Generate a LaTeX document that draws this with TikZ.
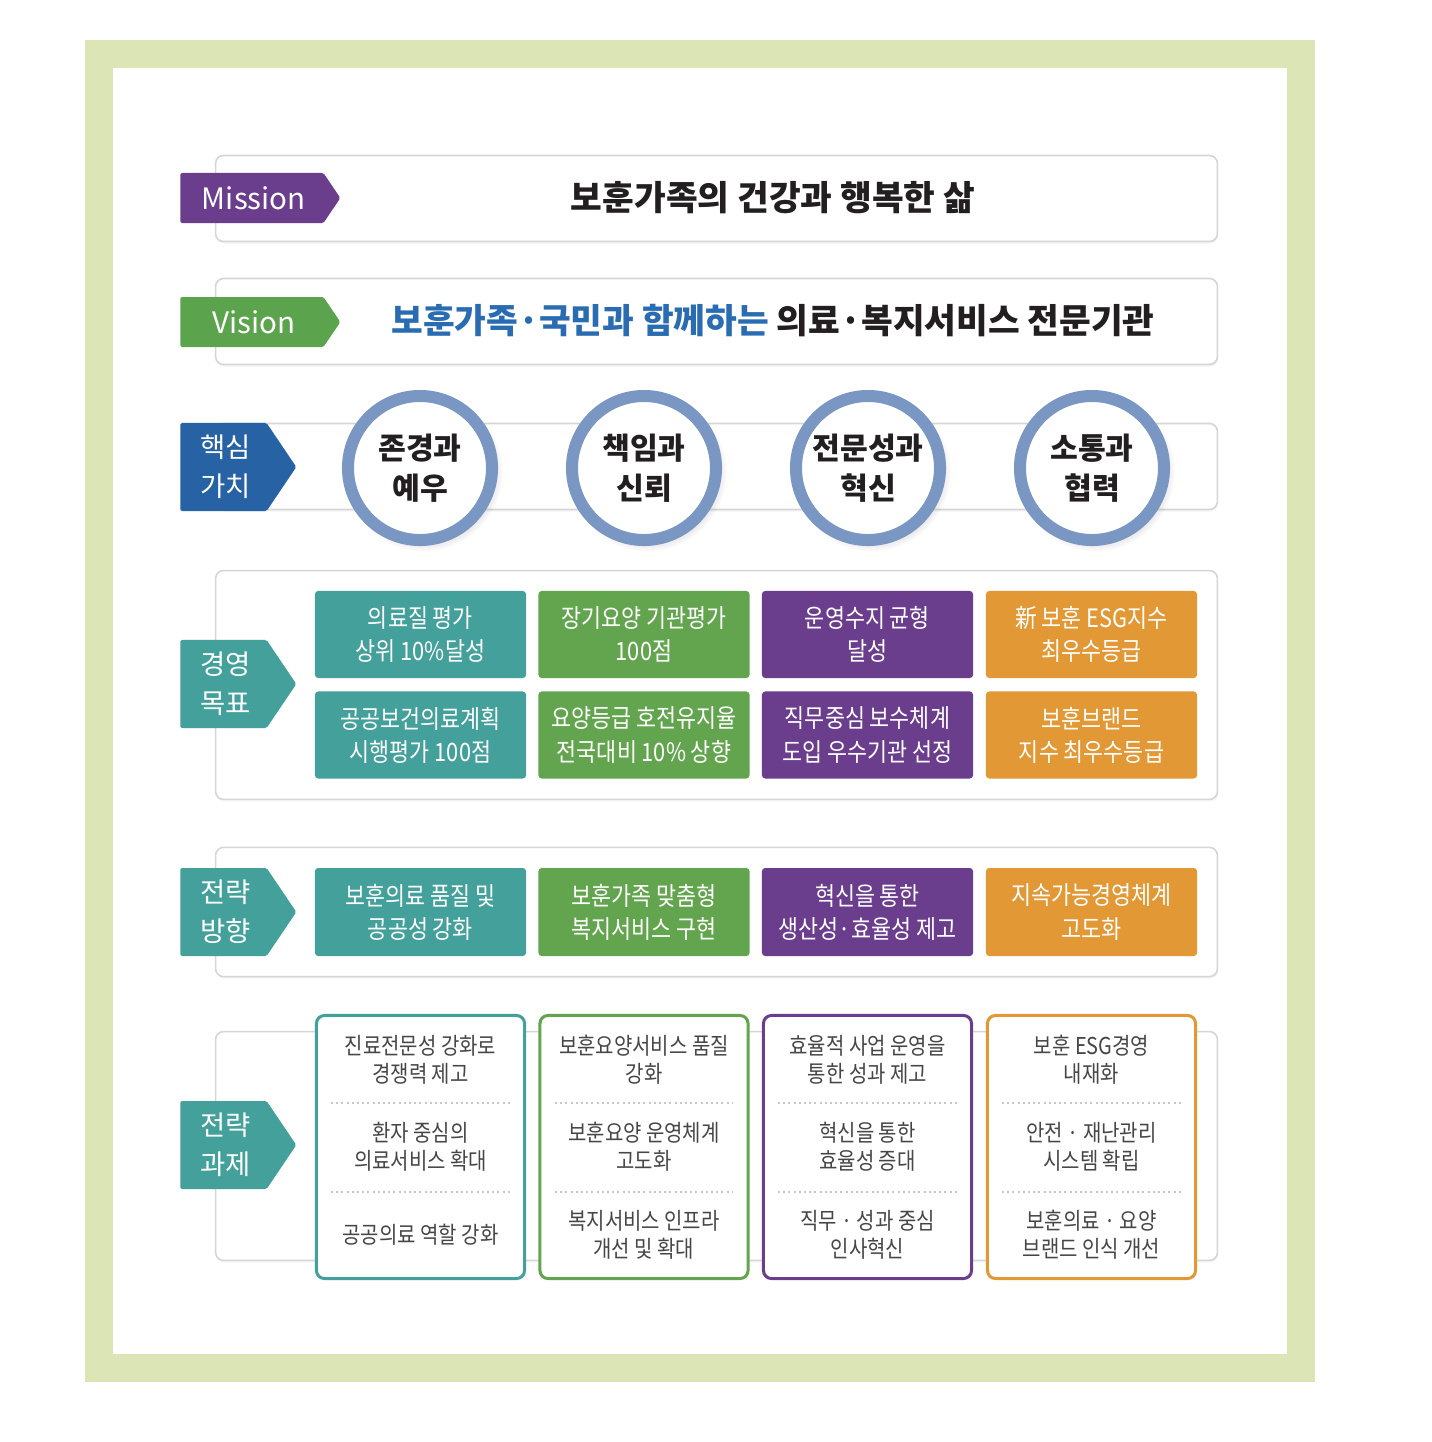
\documentclass[tikz,border=0pt]{standalone}
\usepackage{fontspec}
\setmainfont{Noto Sans CJK KR}
\newfontfamily\narrow{Noto Sans CJK KR}[FakeStretch=0.86]
\usetikzlibrary{shapes.symbols, shadows, positioning}

\definecolor{bandgreen}{RGB}{219,229,182}
\definecolor{framegray}{RGB}{214,214,214}
\definecolor{purp}{RGB}{107,61,141}
\definecolor{visgreen}{RGB}{92,163,78}
\definecolor{coreblue}{RGB}{38,98,164}
\definecolor{teal}{RGB}{68,160,154}
\definecolor{goalgreen}{RGB}{99,165,79}
\definecolor{orange}{RGB}{226,152,52}
\definecolor{ringblue}{RGB}{122,150,194}
\definecolor{textblue}{RGB}{42,108,178}
\definecolor{taskgray}{RGB}{70,70,70}
\definecolor{inkblack}{RGB}{35,31,32}

\begin{document}
\begin{tikzpicture}[x=0.025cm, y=-0.025cm]

    % Define styles
    \tikzstyle{frame} = [rectangle, draw=framegray, line width=0.04cm, rounded corners=0.2cm, fill=white, minimum width=25.04cm, drop shadow={opacity=0.08, shadow xshift=0.02cm, shadow yshift=-0.05cm}]
    \tikzstyle{tag} = [signal, signal to=east, signal pointer angle=112, anchor=west, text=white, inner sep=0, rounded corners=0.04cm]
    \tikzstyle{smalltag} = [tag, minimum width=4cm, minimum height=1.25cm, font=\fontsize{21}{24}\selectfont]
    \tikzstyle{bigtag} = [tag, minimum width=2.9cm, minimum height=2.2cm, align=center, font=\fontsize{19.5}{27.5}\selectfont]
    \tikzstyle{value} = [circle, draw=ringblue, line width=0.3cm, fill=white, minimum size=3.6cm, inner sep=0, align=center, text=inkblack, font=\fontsize{21.5}{28.5}\bfseries, circular drop shadow={opacity=0.25, shadow xshift=0.08cm, shadow yshift=-0.1cm}]
    \tikzstyle{goal} = [rectangle, rounded corners=0.08cm, minimum width=5.275cm, minimum height=2.175cm, text=white, align=center, font=\narrow\fontsize{18}{23.5}\selectfont]
    \tikzstyle{task} = [rectangle, rounded corners=0.2cm, fill=white, line width=0.075cm, minimum width=5.2cm, minimum height=6.575cm]
    \tikzstyle{item} = [align=center, text=taskgray, font=\narrow\fontsize{16.5}{20}\selectfont]
    \tikzstyle{sep} = [draw=gray!45, line width=0.04cm, dash pattern=on 0.05cm off 0.08cm]

    % Page and green band
    \useasboundingbox (0,0) rectangle (1432,1442);
    \fill[bandgreen] (85,40) rectangle (1315,1382);
    \fill[white] (113,68) rectangle (1287,1354);

    % Row frames
    \node[frame, minimum height=2.15cm] (fmission) at (716.5,198.5) {};
    \node[frame, minimum height=2.15cm] (fvision) at (716.5,321.5) {};
    \node[frame, minimum height=2.15cm] (fcore) at (716.5,466.5) {};
    \node[frame, minimum height=5.72cm] (fgoal) at (716.5,685) {};
    \node[frame, minimum height=3.23cm] (fstrat) at (716.5,912) {};
    \node[frame, minimum height=5.72cm] (ftask) at (716.5,1146) {};

    % Row labels
    \node[smalltag, fill=purp] (mission) at (180,198) {\hspace*{0.1cm}Mission};
    \node[smalltag, fill=visgreen] (vision) at (180,322) {\hspace*{0.1cm}Vision};
    \node[bigtag, fill=coreblue] (core) at (180,467) {\hspace*{0.12cm}핵심\\\hspace*{0.12cm}가치};
    \node[bigtag, fill=teal] (goal) at (180,684) {\hspace*{0.12cm}경영\\\hspace*{0.12cm}목표};
    \node[bigtag, fill=teal] (strat) at (180,912) {\hspace*{0.12cm}전략\\\hspace*{0.12cm}방향};
    \node[bigtag, fill=teal] (task) at (180,1145) {\hspace*{0.12cm}전략\\\hspace*{0.12cm}과제};

    % Mission and Vision
    \node[text=inkblack, font=\fontsize{24.5}{28}\bfseries] (missiontxt) at (773,198) {보훈가족의 건강과 행복한 삶};
    \node[text=inkblack, font=\fontsize{24.5}{28}\bfseries] (visiontxt) at (773,321) {{\color{textblue}보훈가족·국민과 함께하는} 의료·복지서비스 전문기관};

    % Core values
    \node[value] (v1) at (420,468) {존경과\\예우};
    \node[value] (v2) at (644,468) {책임과\\신뢰};
    \node[value] (v3) at (868,468) {전문성과\\혁신};
    \node[value] (v4) at (1092,468) {소통과\\협력};

    % Management goals
    \node[goal, fill=teal] (g1a) at (420.5,634.5) {의료질 평가\\상위 10\%달성};
    \node[goal, fill=goalgreen] (g2a) at (644,634.5) {장기요양 기관평가\\100점};
    \node[goal, fill=purp] (g3a) at (867.5,634.5) {운영수지 균형\\달성};
    \node[goal, fill=orange] (g4a) at (1091.5,634.5) {新 보훈 ESG지수\\최우수등급};
    \node[goal, fill=teal] (g1b) at (420.5,735) {공공보건의료계획\\시행평가 100점};
    \node[goal, fill=goalgreen] (g2b) at (644,735) {요양등급 호전유지율\\전국대비 10\% 상향};
    \node[goal, fill=purp] (g3b) at (867.5,735) {직무중심 보수체계\\도입 우수기관 선정};
    \node[goal, fill=orange] (g4b) at (1091.5,735) {보훈브랜드\\지수 최우수등급};

    % Strategic directions
    \node[goal, fill=teal, minimum height=2.2cm] (s1) at (420.5,912) {보훈의료 품질 및\\공공성 강화};
    \node[goal, fill=goalgreen, minimum height=2.2cm] (s2) at (644,912) {보훈가족 맞춤형\\복지서비스 구현};
    \node[goal, fill=purp, minimum height=2.2cm] (s3) at (867.5,912) {혁신을 통한\\생산성·효율성 제고};
    \node[goal, fill=orange, minimum height=2.2cm] (s4) at (1091.5,912) {지속가능경영체계\\고도화};

    % Strategic tasks
    \node[task, draw=teal] (t1) at (420.5,1147) {};
    \node[task, draw=goalgreen] (t2) at (644,1147) {};
    \node[task, draw=purp] (t3) at (867.5,1147) {};
    \node[task, draw=orange] (t4) at (1091.5,1147) {};

    \draw[sep] (331,1103) -- (510,1103);
    \draw[sep] (331,1192) -- (510,1192);
    \draw[sep] (555,1103) -- (733,1103);
    \draw[sep] (555,1192) -- (733,1192);
    \draw[sep] (778,1103) -- (957,1103);
    \draw[sep] (778,1192) -- (957,1192);
    \draw[sep] (1002,1103) -- (1181,1103);
    \draw[sep] (1002,1192) -- (1181,1192);

    \node[item] (t1a) at (420.5,1060) {진료전문성 강화로\\경쟁력 제고};
    \node[item] (t1b) at (420.5,1147) {환자 중심의\\의료서비스 확대};
    \node[item] (t1c) at (420.5,1235) {공공의료 역할 강화};
    \node[item] (t2a) at (644,1060) {보훈요양서비스 품질\\강화};
    \node[item] (t2b) at (644,1147) {보훈요양 운영체계\\고도화};
    \node[item] (t2c) at (644,1235) {복지서비스 인프라\\개선 및 확대};
    \node[item] (t3a) at (867.5,1060) {효율적 사업 운영을\\통한 성과 제고};
    \node[item] (t3b) at (867.5,1147) {혁신을 통한\\효율성 증대};
    \node[item] (t3c) at (867.5,1235) {직무 · 성과 중심\\인사혁신};
    \node[item] (t4a) at (1091.5,1060) {보훈 ESG경영\\내재화};
    \node[item] (t4b) at (1091.5,1147) {안전 · 재난관리\\시스템 확립};
    \node[item] (t4c) at (1091.5,1235) {보훈의료 · 요양\\브랜드 인식 개선};

\end{tikzpicture}
\end{document}
